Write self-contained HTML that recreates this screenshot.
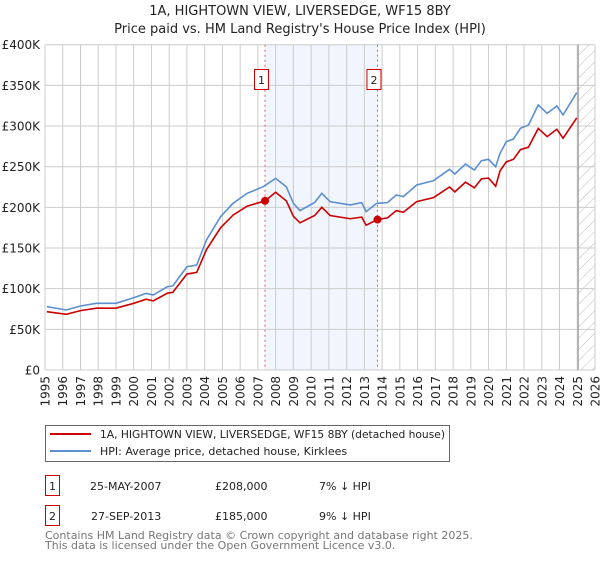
<!DOCTYPE html>
<html><head><meta charset="utf-8"><style>
body{margin:0;background:#fff;font-family:"Liberation Sans","DejaVu Sans",sans-serif;}
svg text{font-family:"DejaVu Sans","Liberation Sans",sans-serif;}
</style></head><body>
<svg id="c" width="600" height="560" xmlns="http://www.w3.org/2000/svg">
<defs><pattern id="hatch" width="8" height="8" patternUnits="userSpaceOnUse" patternTransform="rotate(45)"><line x1="0" y1="0" x2="0" y2="8" stroke="#bbb" stroke-width="1"/></pattern></defs>
<text x="300" y="15" text-anchor="middle" font-size="13" fill="#222">1A, HIGHTOWN VIEW, LIVERSEDGE, WF15 8BY</text>
<text x="300" y="33" text-anchor="middle" font-size="13" fill="#222">Price paid vs. HM Land Registry's House Price Index (HPI)</text>
<g id="plot"></g>
<g>
<rect x="45.5" y="425.5" width="404" height="36" fill="#fff" stroke="#666"/>
<line x1="50" y1="434" x2="91" y2="434" stroke="#cc0000" stroke-width="2"/>
<text x="100" y="438" font-size="11" fill="#222" textLength="345" lengthAdjust="spacingAndGlyphs">1A, HIGHTOWN VIEW, LIVERSEDGE, WF15 8BY (detached house)</text>
<line x1="50" y1="451" x2="91" y2="451" stroke="#5b8fd0" stroke-width="2"/>
<text x="100" y="455" font-size="11" fill="#222">HPI: Average price, detached house, Kirklees</text>
</g>
<g font-size="11" fill="#222">
<rect x="45.5" y="475.5" width="14" height="20" fill="#fff" stroke="#c00"/>
<text x="52.5" y="490" text-anchor="middle">1</text>
<text x="90" y="490">25-MAY-2007</text><text x="215" y="490">£208,000</text><text x="319" y="490">7% ↓ HPI</text>
<rect x="45.5" y="505.5" width="14" height="20" fill="#fff" stroke="#c00"/>
<text x="52.5" y="520" text-anchor="middle">2</text>
<text x="91" y="520">27-SEP-2013</text><text x="215" y="520">£185,000</text><text x="319" y="520">9% ↓ HPI</text>
</g>
<text x="45" y="539" font-size="11" fill="#777">Contains HM Land Registry data © Crown copyright and database right 2025.</text>
<text x="45" y="549" font-size="11" fill="#777">This data is licensed under the Open Government Licence v3.0.</text>
</svg>
<script>
const hpiYears=[1995.1,1996.2,1997.0,1997.9,1999.0,2000.0,2000.7,2001.1,2001.9,2002.2,2003.0,2003.55,2004.1,2004.9,2005.6,2006.4,2007.3,2008.0,2008.6,2009.0,2009.37,2010.2,2010.6,2011.07,2012.2,2012.85,2013.1,2013.7,2014.3,2014.8,2015.2,2015.95,2016.9,2017.8,2018.1,2018.7,2019.2,2019.6,2020.0,2020.4,2020.65,2021.0,2021.4,2021.8,2022.25,2022.8,2023.3,2023.85,2024.2,2024.97];
const hpiValues=[77.9,73.8,78.7,82,82,88.9,94.3,92.2,102.5,103.3,127,129,159.9,188.6,205,217.3,225.4,235.7,225.4,205,196,206,217.3,207,203,205.8,194.7,205,205.8,215.2,213.2,227.5,232.8,246.8,241,253.3,245.9,257.4,259.1,250,266.5,280.8,284,297.2,301.3,325.9,315.6,324.6,313.6,341];
const priceYears=[1995.1,1996.2,1997.0,1997.9,1999.0,2000.0,2000.7,2001.1,2001.9,2002.2,2003.0,2003.55,2004.1,2004.9,2005.6,2006.4,2007.4,2008.0,2008.6,2009.0,2009.37,2010.2,2010.6,2011.07,2012.2,2012.85,2013.1,2013.74,2014.3,2014.8,2015.2,2015.95,2016.9,2017.8,2018.1,2018.7,2019.2,2019.6,2020.0,2020.4,2020.65,2021.0,2021.4,2021.8,2022.25,2022.8,2023.3,2023.85,2024.2,2024.97];
const priceValues=[71.7,68.5,73,76,76,82,87,85,94.5,95.5,118,120,148,175,190.5,201.5,208,218.5,208,189,181,190,200,190,186,188,178,185,187,196,194,207,212,225,219,231,224,235,236,226,245,256,259,271,274,297,287,296,285,310];
const sales=[{y:2007.4,v:208,l:'1'},{y:2013.74,v:185,l:'2'}];
const yTicks=[0,50,100,150,200,250,300,350,400];
const yLabels=['£0','£50K','£100K','£150K','£200K','£250K','£300K','£350K','£400K'];
const xTicks=[1995,1996,1997,1998,1999,2000,2001,2002,2003,2004,2005,2006,2007,2008,2009,2010,2011,2012,2013,2014,2015,2016,2017,2018,2019,2020,2021,2022,2023,2024,2025,2026];

const X0=45,X1=595,Y0=370,Y1=44.7;
const xs=y=>X0+(y-1995)/(2026-1995)*(X1-X0);
const ys=v=>Y0-v/400*(Y0-Y1);
const NS='http://www.w3.org/2000/svg';
const g=document.getElementById('plot');
function mk(t,a){const e=document.createElementNS(NS,t);for(const k in a)e.setAttribute(k,a[k]);g.appendChild(e);return e;}
let e;
e=mk('rect',{x:xs(sales[0].y),y:Y1,width:xs(sales[1].y)-xs(sales[0].y),height:Y0-Y1,fill:'#eef3fc',opacity:0.8});


e=mk('rect',{x:xs(2025.05),y:Y1,width:X1-xs(2025.05),height:Y0-Y1,fill:'url(#hatch)'});


xTicks.forEach(t=>{
 e=mk('line',{x1:xs(t),x2:xs(t),y1:Y1,y2:Y0,stroke:'#ccc','stroke-width':1});
 
 
 e=mk('text',{x:0,y:0,transform:`translate(${xs(t)+4.5},376) rotate(-90)`,'text-anchor':'end','font-size':12,fill:'#222'});
 e.textContent=t;
 
 
});
yTicks.forEach((t,i)=>{
 e=mk('line',{x1:X0,x2:X1,y1:ys(t),y2:ys(t),stroke:'#ccc','stroke-width':1});
 
 
 e=mk('text',{x:40,y:ys(t)+4.5,'text-anchor':'end','font-size':12,fill:'#222'});
 e.textContent=yLabels[i];
 
 
});
e=mk('line',{x1:xs(2025.05),x2:xs(2025.05),y1:Y1,y2:Y0,stroke:'#999','stroke-width':1.2});


sales.forEach(s=>{
 e=mk('line',{x1:xs(s.y),x2:xs(s.y),y1:Y1,y2:Y0,stroke:'#e06060','stroke-width':1,'stroke-dasharray':'2,3'});
 
 
});
e=mk('polyline',{points:hpiYears.map((y,i)=>xs(y)+','+ys(hpiValues[i])).join(' '),fill:'none',stroke:'#5b8fd0','stroke-width':1.6});


e=mk('polyline',{points:priceYears.map((y,i)=>xs(y)+','+ys(priceValues[i])).join(' '),fill:'none',stroke:'#cc0000','stroke-width':1.6});


sales.forEach(s=>{
 e=mk('circle',{cx:xs(s.y),cy:ys(s.v),r:4,fill:'#cc0000'});
 
 
 e=mk('rect',{x:xs(s.y)-10.5,y:69.5,width:14,height:20,fill:'#fff',stroke:'#c00'});
 
 
 e=mk('text',{x:xs(s.y)-3.5,y:84,'text-anchor':'middle','font-size':11,fill:'#222'});
 e.textContent=s.l;
 
 
});
</script>
</body></html>
